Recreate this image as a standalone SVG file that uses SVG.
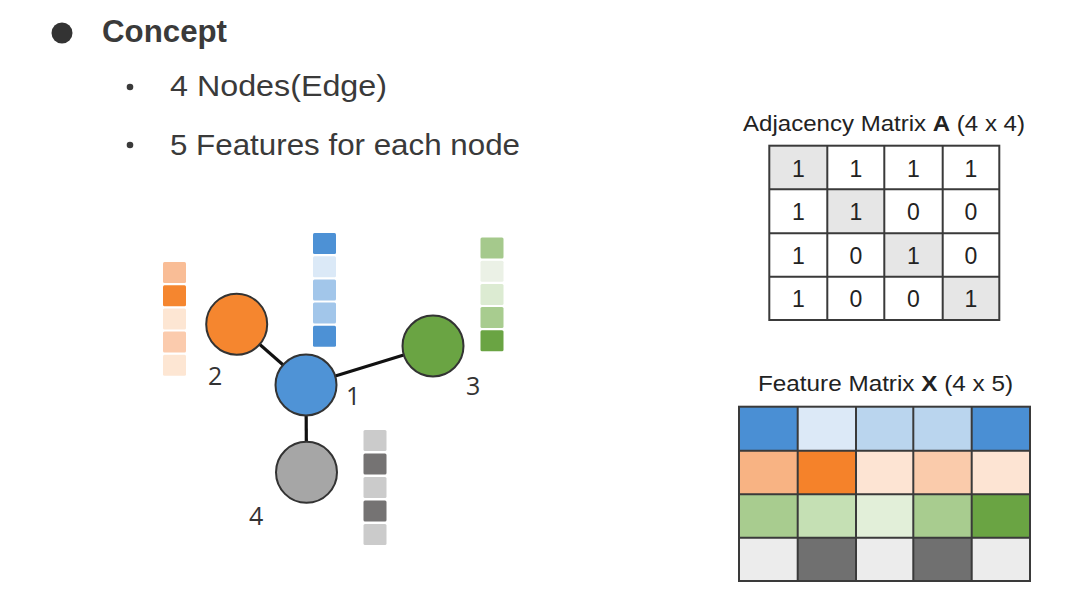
<svg xmlns="http://www.w3.org/2000/svg" width="1077" height="595" viewBox="0 0 1077 595">
<style>
.head{font-family:"Liberation Sans",Arial,sans-serif;fill:#3a3a3a}
.b{font-weight:bold}
.lbl{font-family:"Open Sans","Noto Sans",sans-serif;font-size:25px;fill:#333}
.ttl{font-family:"Liberation Sans",Arial,sans-serif;font-size:22px;fill:#222}
.num{font-family:"Liberation Sans",Arial,sans-serif;font-size:23px;fill:#222;text-anchor:middle}
.edge{stroke:#111;stroke-width:3.2;fill:none}
.node{stroke:#333;stroke-width:2}
.grid{fill:none;stroke:#3a3a3a;stroke-width:2}
</style>
<rect width="1077" height="595" fill="#ffffff"/>
<g id="text-header">
<circle cx="62" cy="33" r="10.5" fill="#333"/>
<text class="head b" x="102" y="42" font-size="31" textLength="125" lengthAdjust="spacingAndGlyphs" fill="#333">Concept</text>
<circle cx="130" cy="87" r="3.3" fill="#3a3a3a"/>
<text class="head" x="170" y="96" font-size="29" textLength="217" lengthAdjust="spacingAndGlyphs">4 Nodes(Edge)</text>
<circle cx="130" cy="145" r="3.3" fill="#3a3a3a"/>
<text class="head" x="170" y="155" font-size="29" textLength="350" lengthAdjust="spacingAndGlyphs">5 Features  for  each  node</text>
</g>
<g id="connectors">
<line class="edge" x1="306" y1="385" x2="236.7" y2="324.2"/>
<line class="edge" x1="306" y1="385" x2="433" y2="346"/>
<line class="edge" x1="306" y1="385" x2="306.5" y2="472.3"/>
</g>
<g id="node2">
<g>
<rect x="163" y="262" width="23" height="21" rx="1.5" fill="#f9bd96"/>
<rect x="163" y="285.2" width="23" height="21" rx="1.5" fill="#f5862f"/>
<rect x="163" y="308.4" width="23" height="21" rx="1.5" fill="#fde6d3"/>
<rect x="163" y="331.6" width="23" height="21" rx="1.5" fill="#fbcbad"/>
<rect x="163" y="354.8" width="23" height="21" rx="1.5" fill="#fde6d3"/>
</g>
<circle class="node" cx="236.7" cy="324.2" r="30.5" fill="#f5862f"/>
<text class="lbl" x="208" y="384.5">2</text>
</g>
<g id="node1">
<g>
<rect x="313" y="233" width="23" height="21" rx="1.5" fill="#4d91d5"/>
<rect x="313" y="256.2" width="23" height="21" rx="1.5" fill="#dbe9f7"/>
<rect x="313" y="279.4" width="23" height="21" rx="1.5" fill="#a2c6ea"/>
<rect x="313" y="302.6" width="23" height="21" rx="1.5" fill="#a2c6ea"/>
<rect x="313" y="325.8" width="23" height="21" rx="1.5" fill="#4d91d5"/>
</g>
<circle class="node" cx="306" cy="385" r="30.5" fill="#4f93d6"/>
<text class="lbl" x="346" y="405">1</text>
</g>
<g id="node3">
<g>
<rect x="480.5" y="237.5" width="23" height="21" rx="1.5" fill="#a5c98c"/>
<rect x="480.5" y="260.7" width="23" height="21" rx="1.5" fill="#ebf1e6"/>
<rect x="480.5" y="283.9" width="23" height="21" rx="1.5" fill="#dcebd2"/>
<rect x="480.5" y="307.1" width="23" height="21" rx="1.5" fill="#a8cc8f"/>
<rect x="480.5" y="330.3" width="23" height="21" rx="1.5" fill="#6aa443"/>
</g>
<circle class="node" cx="433" cy="346" r="30.5" fill="#6aa443"/>
<text class="lbl" x="466" y="395">3</text>
</g>
<g id="node4">
<g>
<rect x="363.5" y="430" width="23" height="21" rx="1.5" fill="#cbcbcb"/>
<rect x="363.5" y="453.5" width="23" height="21" rx="1.5" fill="#757373"/>
<rect x="363.5" y="477" width="23" height="21" rx="1.5" fill="#cbcbcb"/>
<rect x="363.5" y="500.5" width="23" height="21" rx="1.5" fill="#757373"/>
<rect x="363.5" y="524" width="23" height="21" rx="1.5" fill="#cbcbcb"/>
</g>
<circle class="node" cx="306.5" cy="472.3" r="30.5" fill="#a6a6a6"/>
<text class="lbl" x="249" y="525">4</text>
</g>
<g id="adjacency-matrix">
<text class="ttl" x="743" y="131" textLength="282" lengthAdjust="spacingAndGlyphs">Adjacency Matrix <tspan class="b">A</tspan> (4 x 4)</text>
<rect x="769.3" y="145.7" width="58" height="43.6" fill="#e6e6e6"/>
<rect x="827.3" y="189.3" width="57" height="44" fill="#e6e6e6"/>
<rect x="884.3" y="233.3" width="58.4" height="43.4" fill="#e6e6e6"/>
<rect x="942.7" y="276.7" width="56.6" height="43.3" fill="#e6e6e6"/>
<rect class="grid" x="769.3" y="145.7" width="230" height="174.3"/>
<path class="grid" d="M827.3 145.7V320M884.3 145.7V320M942.7 145.7V320M769.3 189.3H999.3M769.3 233.3H999.3M769.3 276.7H999.3"/>
<text class="num" x="798.3" y="176.5">1</text><text class="num" x="855.8" y="176.5">1</text><text class="num" x="913.5" y="176.5">1</text><text class="num" x="971" y="176.5">1</text>
<text class="num" x="798.3" y="220">1</text><text class="num" x="855.8" y="220">1</text><text class="num" x="913.5" y="220">0</text><text class="num" x="971" y="220">0</text>
<text class="num" x="798.3" y="263.5">1</text><text class="num" x="855.8" y="263.5">0</text><text class="num" x="913.5" y="263.5">1</text><text class="num" x="971" y="263.5">0</text>
<text class="num" x="798.3" y="307">1</text><text class="num" x="855.8" y="307">0</text><text class="num" x="913.5" y="307">0</text><text class="num" x="971" y="307">1</text>
</g>
<g id="feature-matrix">
<text class="ttl" x="758" y="391" textLength="255" lengthAdjust="spacingAndGlyphs">Feature Matrix <tspan class="b">X</tspan> (4 x 5)</text>
<rect x="739" y="406.7" width="58.7" height="44" fill="#4a8fd4"/>
<rect x="797.7" y="406.7" width="58.3" height="44" fill="#dce9f7"/>
<rect x="856" y="406.7" width="57.3" height="44" fill="#bad5ee"/>
<rect x="913.3" y="406.7" width="58.4" height="44" fill="#bad5ee"/>
<rect x="971.7" y="406.7" width="58.3" height="44" fill="#4a8fd4"/>
<rect x="739" y="450.7" width="58.7" height="43.6" fill="#f8b383"/>
<rect x="797.7" y="450.7" width="58.3" height="43.6" fill="#f5822a"/>
<rect x="856" y="450.7" width="57.3" height="43.6" fill="#fde4d3"/>
<rect x="913.3" y="450.7" width="58.4" height="43.6" fill="#facbab"/>
<rect x="971.7" y="450.7" width="58.3" height="43.6" fill="#fde4d3"/>
<rect x="739" y="494.3" width="58.7" height="43.4" fill="#a8cc8f"/>
<rect x="797.7" y="494.3" width="58.3" height="43.4" fill="#c5e0b4"/>
<rect x="856" y="494.3" width="57.3" height="43.4" fill="#e2efd9"/>
<rect x="913.3" y="494.3" width="58.4" height="43.4" fill="#a8cc8f"/>
<rect x="971.7" y="494.3" width="58.3" height="43.4" fill="#6aa443"/>
<rect x="739" y="537.7" width="58.7" height="43.3" fill="#ececec"/>
<rect x="797.7" y="537.7" width="58.3" height="43.3" fill="#707070"/>
<rect x="856" y="537.7" width="57.3" height="43.3" fill="#ececec"/>
<rect x="913.3" y="537.7" width="58.4" height="43.3" fill="#707070"/>
<rect x="971.7" y="537.7" width="58.3" height="43.3" fill="#ececec"/>
<rect class="grid" x="739" y="406.7" width="291" height="174.3"/>
<path class="grid" d="M797.7 406.7V581M856 406.7V581M913.3 406.7V581M971.7 406.7V581M739 450.7H1030M739 494.3H1030M739 537.7H1030"/>
</g>
</svg>
